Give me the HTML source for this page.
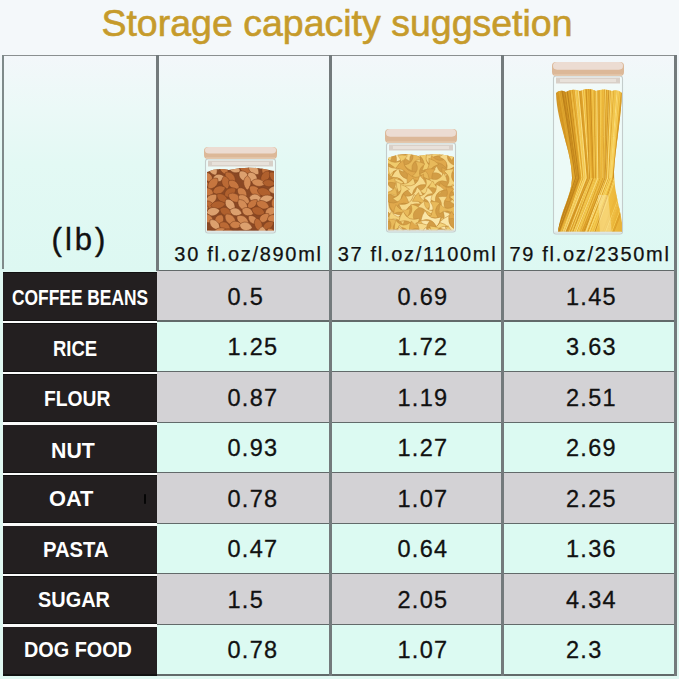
<!DOCTYPE html>
<html><head><meta charset="utf-8">
<style>
html,body{margin:0;padding:0;}
body{width:679px;height:679px;overflow:hidden;position:relative;
 background:#f4f8fa;font-family:"Liberation Sans",sans-serif;}
.a{position:absolute;}
.title{left:-2.5px;top:1px;width:679px;text-align:center;color:#c69b2b;font-size:37.5px;line-height:44px;-webkit-text-stroke:0.6px #c69b2b;}
.hdr{left:0;top:55px;width:679px;height:216px;background:linear-gradient(#f3f7fa 0%,#ebf9f7 25%,#e3f9f4 50%,#ddf8f2 100%);}
.lab{font-size:20px;color:#111;text-align:center;line-height:20px;letter-spacing:1.7px;-webkit-text-stroke:0.25px #111;}
.blk{color:#fff;font-weight:bold;font-size:21.5px;line-height:50px;white-space:nowrap;transform-origin:0 0;}

.val{font-size:23.5px;color:#111;text-align:left;letter-spacing:1.3px;-webkit-text-stroke:0.3px #111;}
.vl{background:#737a7c;}
.hlin{background:#626a6a;}
</style></head><body>
<div class="a" style="left:0;top:0;width:679px;height:56px;background:#f4f8fa"></div>
<div class="a title">Storage capacity suggsetion</div>
<div class="a hdr"></div>
<div class="a" style="left:0;top:270.5px;width:679px;height:408.5px;background:#e0f8f2"></div>
<div class="a" style="left:157px;top:270.50px;width:518px;height:50.56px;background:#d3d2d5"></div>
<div class="a" style="left:3px;top:272.00px;width:153.5px;height:49.06px;background:#231f20;box-shadow:inset 0 1px 0 #111,inset 0 -1px 0 #111"></div>
<div class="a val" style="left:227.5px;top:271.50px;height:50.56px;line-height:50.56px">0.5</div>
<div class="a val" style="left:397.5px;top:271.50px;height:50.56px;line-height:50.56px">0.69</div>
<div class="a val" style="left:566px;top:271.50px;height:50.56px;line-height:50.56px">1.45</div>
<div class="a" style="left:157px;top:321.06px;width:518px;height:50.56px;background:#dcfaf2"></div>
<div class="a" style="left:3px;top:323.06px;width:153.5px;height:48.56px;background:#231f20;box-shadow:inset 0 1px 0 #111,inset 0 -1px 0 #111"></div>
<div class="a val" style="left:227.5px;top:322.06px;height:50.56px;line-height:50.56px">1.25</div>
<div class="a val" style="left:397.5px;top:322.06px;height:50.56px;line-height:50.56px">1.72</div>
<div class="a val" style="left:566px;top:322.06px;height:50.56px;line-height:50.56px">3.63</div>
<div class="a" style="left:157px;top:371.62px;width:518px;height:50.56px;background:#d3d2d5"></div>
<div class="a" style="left:3px;top:373.62px;width:153.5px;height:48.56px;background:#231f20;box-shadow:inset 0 1px 0 #111,inset 0 -1px 0 #111"></div>
<div class="a val" style="left:227.5px;top:372.62px;height:50.56px;line-height:50.56px">0.87</div>
<div class="a val" style="left:397.5px;top:372.62px;height:50.56px;line-height:50.56px">1.19</div>
<div class="a val" style="left:566px;top:372.62px;height:50.56px;line-height:50.56px">2.51</div>
<div class="a" style="left:157px;top:422.18px;width:518px;height:50.56px;background:#dcfaf2"></div>
<div class="a" style="left:3px;top:424.18px;width:153.5px;height:48.56px;background:#231f20;box-shadow:inset 0 1px 0 #111,inset 0 -1px 0 #111"></div>
<div class="a val" style="left:227.5px;top:423.18px;height:50.56px;line-height:50.56px">0.93</div>
<div class="a val" style="left:397.5px;top:423.18px;height:50.56px;line-height:50.56px">1.27</div>
<div class="a val" style="left:566px;top:423.18px;height:50.56px;line-height:50.56px">2.69</div>
<div class="a" style="left:157px;top:472.74px;width:518px;height:50.56px;background:#d3d2d5"></div>
<div class="a" style="left:3px;top:474.74px;width:153.5px;height:48.56px;background:#231f20;box-shadow:inset 0 1px 0 #111,inset 0 -1px 0 #111"></div>
<div class="a val" style="left:227.5px;top:473.74px;height:50.56px;line-height:50.56px">0.78</div>
<div class="a val" style="left:397.5px;top:473.74px;height:50.56px;line-height:50.56px">1.07</div>
<div class="a val" style="left:566px;top:473.74px;height:50.56px;line-height:50.56px">2.25</div>
<div class="a" style="left:157px;top:523.30px;width:518px;height:50.56px;background:#dcfaf2"></div>
<div class="a" style="left:3px;top:525.30px;width:153.5px;height:48.56px;background:#231f20;box-shadow:inset 0 1px 0 #111,inset 0 -1px 0 #111"></div>
<div class="a val" style="left:227.5px;top:524.30px;height:50.56px;line-height:50.56px">0.47</div>
<div class="a val" style="left:397.5px;top:524.30px;height:50.56px;line-height:50.56px">0.64</div>
<div class="a val" style="left:566px;top:524.30px;height:50.56px;line-height:50.56px">1.36</div>
<div class="a" style="left:157px;top:573.86px;width:518px;height:50.56px;background:#d3d2d5"></div>
<div class="a" style="left:3px;top:575.86px;width:153.5px;height:48.56px;background:#231f20;box-shadow:inset 0 1px 0 #111,inset 0 -1px 0 #111"></div>
<div class="a val" style="left:227.5px;top:574.86px;height:50.56px;line-height:50.56px">1.5</div>
<div class="a val" style="left:397.5px;top:574.86px;height:50.56px;line-height:50.56px">2.05</div>
<div class="a val" style="left:566px;top:574.86px;height:50.56px;line-height:50.56px">4.34</div>
<div class="a" style="left:157px;top:624.42px;width:518px;height:50.56px;background:#dcfaf2"></div>
<div class="a" style="left:3px;top:626.42px;width:153.5px;height:48.56px;background:#231f20;box-shadow:inset 0 1px 0 #111,inset 0 -1px 0 #111"></div>
<div class="a val" style="left:227.5px;top:625.42px;height:50.56px;line-height:50.56px">0.78</div>
<div class="a val" style="left:397.5px;top:625.42px;height:50.56px;line-height:50.56px">1.07</div>
<div class="a val" style="left:566px;top:625.42px;height:50.56px;line-height:50.56px">2.3</div>
<div class="a hlin" style="left:157px;top:269.90px;width:519px;height:1.2px"></div>
<div class="a hlin" style="left:157px;top:320.46px;width:519px;height:1.2px"></div>
<div class="a hlin" style="left:157px;top:371.02px;width:519px;height:1.2px"></div>
<div class="a hlin" style="left:157px;top:421.58px;width:519px;height:1.2px"></div>
<div class="a hlin" style="left:157px;top:472.14px;width:519px;height:1.2px"></div>
<div class="a hlin" style="left:157px;top:522.70px;width:519px;height:1.2px"></div>
<div class="a hlin" style="left:157px;top:573.26px;width:519px;height:1.2px"></div>
<div class="a hlin" style="left:157px;top:623.82px;width:519px;height:1.2px"></div>
<div class="a hlin" style="left:157px;top:674.38px;width:519px;height:1.2px"></div>
<div class="a" style="left:3px;top:321.06px;width:153.5px;height:2.4px;background:#fbfbfb"></div>
<div class="a" style="left:3px;top:371.62px;width:153.5px;height:2.4px;background:#fbfbfb"></div>
<div class="a" style="left:3px;top:422.18px;width:153.5px;height:2.4px;background:#fbfbfb"></div>
<div class="a" style="left:3px;top:472.74px;width:153.5px;height:2.4px;background:#fbfbfb"></div>
<div class="a" style="left:3px;top:523.30px;width:153.5px;height:2.4px;background:#fbfbfb"></div>
<div class="a" style="left:3px;top:573.86px;width:153.5px;height:2.4px;background:#fbfbfb"></div>
<div class="a" style="left:3px;top:624.42px;width:153.5px;height:2.4px;background:#fbfbfb"></div>
<div class="a" style="left:3px;top:674.38px;width:154px;height:1.2px;background:#111"></div>
<div class="a" style="left:144.3px;top:494px;width:2px;height:9.5px;background:#050505;border-radius:1px"></div>
<div class="a" style="left:3px;top:54.6px;width:672px;height:1.4px;background:#8a8f90"></div>
<div class="a" style="left:2px;top:55px;width:2px;height:214px;background:#7f8a8a"></div>
<div class="a vl" style="left:155.5px;top:55px;width:3px;height:216px"></div>
<div class="a vl" style="left:328.50px;top:55px;width:3px;height:620.58px"></div>
<div class="a vl" style="left:500.85px;top:55px;width:3px;height:620.58px"></div>
<div class="a vl" style="left:673.50px;top:55px;width:3px;height:620.58px"></div>
<div class="a blk" style="left:11.79px;top:272.90px;transform:scaleX(0.8084)">COFFEE BEANS</div>
<div class="a blk" style="left:53.24px;top:323.55px;transform:scaleX(0.8600)">RICE</div>
<div class="a blk" style="left:44.00px;top:373.95px;transform:scaleX(0.8972)">FLOUR</div>
<div class="a blk" style="left:50.81px;top:425.55px;transform:scaleX(0.9907)">NUT</div>
<div class="a blk" style="left:49.39px;top:474.05px;transform:scaleX(1.0140)">OAT</div>
<div class="a blk" style="left:43.06px;top:525.40px;transform:scaleX(0.9412)">PASTA</div>
<div class="a blk" style="left:38.17px;top:575.40px;transform:scaleX(0.9263)">SUGAR</div>
<div class="a blk" style="left:24.38px;top:625.40px;transform:scaleX(0.9217)">DOG FOOD</div>
<div class="a" style="left:3px;top:222px;width:154px;text-align:center;font-size:31px;letter-spacing:3px;color:#111;line-height:36px;-webkit-text-stroke:0.4px #111">(lb)</div>
<div class="a lab" style="left:162px;top:244px;width:173px">30 fl.oz/890ml</div>
<div class="a lab" style="left:331.5px;top:244px;width:172px">37 fl.oz/1100ml</div>
<div class="a lab" style="left:503.5px;top:244px;width:173px">79 fl.oz/2350ml</div>
<svg class="a" style="left:0;top:0" width="679" height="679" viewBox="0 0 679 679"><rect x="205.5" y="159" width="70" height="74" rx="2.5" fill="#f4fbfa" fill-opacity="0.55"/><clipPath id="alc"><path d="M207,172 Q217,167 229,170 Q247,166 264,169 L274,171 L274,231 L207,231 Z"/></clipPath><g clip-path="url(#alc)"><rect x="207" y="166" width="67" height="65" fill="#8a4824"/><path d="M-6.7,0 C-4.0,-5.5 3.4,-4.9 6.7,0 C3.4,4.9 -4.0,5.5 -6.7,0Z" transform="translate(201.2 170.1) rotate(77)" fill="#b0602d" stroke="#7a3d1c" stroke-width="0.5"/><path d="M-6.7,0 C-4.0,-5.8 3.4,-5.1 6.7,0 C3.4,5.1 -4.0,5.8 -6.7,0Z" transform="translate(213.0 169.3) rotate(63)" fill="#dca06e" stroke="#7a3d1c" stroke-width="0.5"/><path d="M-6.6,0 C-4.0,-4.9 3.3,-4.3 6.6,0 C3.3,4.3 -4.0,4.9 -6.6,0Z" transform="translate(223.9 169.2) rotate(55)" fill="#c6763f" stroke="#7a3d1c" stroke-width="0.5"/><path d="M-6.7,0 C-4.0,-5.6 3.4,-5.0 6.7,0 C3.4,5.0 -4.0,5.6 -6.7,0Z" transform="translate(234.5 168.6) rotate(28)" fill="#dca06e" stroke="#7a3d1c" stroke-width="0.5"/><path d="M-7.4,0 C-4.5,-5.0 3.7,-4.4 7.4,0 C3.7,4.4 -4.5,5.0 -7.4,0Z" transform="translate(245.8 169.7) rotate(30)" fill="#bb6a35" stroke="#7a3d1c" stroke-width="0.5"/><path d="M-7.2,0 C-4.3,-5.8 3.6,-5.1 7.2,0 C3.6,5.1 -4.3,5.8 -7.2,0Z" transform="translate(253.7 169.2) rotate(47)" fill="#dca06e" stroke="#7a3d1c" stroke-width="0.5"/><path d="M-6.3,0 C-3.8,-5.2 3.2,-4.6 6.3,0 C3.2,4.6 -3.8,5.2 -6.3,0Z" transform="translate(265.4 169.6) rotate(99)" fill="#c6763f" stroke="#7a3d1c" stroke-width="0.5"/><path d="M-7.4,0 C-4.5,-5.8 3.7,-5.2 7.4,0 C3.7,5.2 -4.5,5.8 -7.4,0Z" transform="translate(279.0 170.5) rotate(-34)" fill="#b0602d" stroke="#7a3d1c" stroke-width="0.5"/><path d="M-6.4,0 C-3.9,-4.9 3.2,-4.4 6.4,0 C3.2,4.4 -3.9,4.9 -6.4,0Z" transform="translate(208.5 177.4) rotate(49)" fill="#cd8049" stroke="#7a3d1c" stroke-width="0.5"/><path d="M-6.0,0 C-3.6,-5.3 3.0,-4.7 6.0,0 C3.0,4.7 -3.6,5.3 -6.0,0Z" transform="translate(218.7 177.9) rotate(-9)" fill="#dca06e" stroke="#7a3d1c" stroke-width="0.5"/><path d="M-6.9,0 C-4.1,-5.5 3.4,-4.8 6.9,0 C3.4,4.8 -4.1,5.5 -6.9,0Z" transform="translate(230.4 177.3) rotate(44)" fill="#bb6a35" stroke="#7a3d1c" stroke-width="0.5"/><path d="M-6.8,0 C-4.1,-5.9 3.4,-5.2 6.8,0 C3.4,5.2 -4.1,5.9 -6.8,0Z" transform="translate(244.2 176.4) rotate(48)" fill="#dca06e" stroke="#7a3d1c" stroke-width="0.5"/><path d="M-6.5,0 C-3.9,-5.9 3.2,-5.2 6.5,0 C3.2,5.2 -3.9,5.9 -6.5,0Z" transform="translate(252.6 177.6) rotate(48)" fill="#dca06e" stroke="#7a3d1c" stroke-width="0.5"/><path d="M-6.8,0 C-4.1,-5.5 3.4,-4.9 6.8,0 C3.4,4.9 -4.1,5.5 -6.8,0Z" transform="translate(265.2 176.7) rotate(127)" fill="#b0602d" stroke="#7a3d1c" stroke-width="0.5"/><path d="M-7.5,0 C-4.5,-5.4 3.7,-4.8 7.5,0 C3.7,4.8 -4.5,5.4 -7.5,0Z" transform="translate(275.0 177.6) rotate(44)" fill="#b0602d" stroke="#7a3d1c" stroke-width="0.5"/><path d="M-6.9,0 C-4.2,-5.5 3.5,-4.9 6.9,0 C3.5,4.9 -4.2,5.5 -6.9,0Z" transform="translate(202.9 185.5) rotate(-19)" fill="#c6763f" stroke="#7a3d1c" stroke-width="0.5"/><path d="M-7.1,0 C-4.2,-5.7 3.5,-5.0 7.1,0 C3.5,5.0 -4.2,5.7 -7.1,0Z" transform="translate(212.8 183.6) rotate(132)" fill="#c6763f" stroke="#7a3d1c" stroke-width="0.5"/><path d="M-6.7,0 C-4.0,-5.5 3.3,-4.9 6.7,0 C3.3,4.9 -4.0,5.5 -6.7,0Z" transform="translate(225.8 182.6) rotate(77)" fill="#bb6a35" stroke="#7a3d1c" stroke-width="0.5"/><path d="M-6.5,0 C-3.9,-5.3 3.2,-4.7 6.5,0 C3.2,4.7 -3.9,5.3 -6.5,0Z" transform="translate(233.9 184.8) rotate(34)" fill="#c6763f" stroke="#7a3d1c" stroke-width="0.5"/><path d="M-7.2,0 C-4.3,-5.1 3.6,-4.5 7.2,0 C3.6,4.5 -4.3,5.1 -7.2,0Z" transform="translate(247.3 182.9) rotate(90)" fill="#d38c56" stroke="#7a3d1c" stroke-width="0.5"/><path d="M-7.0,0 C-4.2,-5.1 3.5,-4.5 7.0,0 C3.5,4.5 -4.2,5.1 -7.0,0Z" transform="translate(258.5 182.8) rotate(10)" fill="#d38c56" stroke="#7a3d1c" stroke-width="0.5"/><path d="M-6.3,0 C-3.8,-5.0 3.2,-4.4 6.3,0 C3.2,4.4 -3.8,5.0 -6.3,0Z" transform="translate(269.0 183.2) rotate(7)" fill="#b0602d" stroke="#7a3d1c" stroke-width="0.5"/><path d="M-6.5,0 C-3.9,-5.8 3.3,-5.1 6.5,0 C3.3,5.1 -3.9,5.8 -6.5,0Z" transform="translate(207.4 192.0) rotate(7)" fill="#c6763f" stroke="#7a3d1c" stroke-width="0.5"/><path d="M-6.7,0 C-4.0,-5.5 3.3,-4.9 6.7,0 C3.3,4.9 -4.0,5.5 -6.7,0Z" transform="translate(219.1 189.9) rotate(-21)" fill="#bb6a35" stroke="#7a3d1c" stroke-width="0.5"/><path d="M-6.7,0 C-4.0,-5.8 3.4,-5.1 6.7,0 C3.4,5.1 -4.0,5.8 -6.7,0Z" transform="translate(230.2 192.3) rotate(-34)" fill="#b0602d" stroke="#7a3d1c" stroke-width="0.5"/><path d="M-6.0,0 C-3.6,-5.4 3.0,-4.8 6.0,0 C3.0,4.8 -3.6,5.4 -6.0,0Z" transform="translate(242.2 192.4) rotate(43)" fill="#cd8049" stroke="#7a3d1c" stroke-width="0.5"/><path d="M-7.3,0 C-4.4,-5.9 3.6,-5.3 7.3,0 C3.6,5.3 -4.4,5.9 -7.3,0Z" transform="translate(255.3 191.1) rotate(39)" fill="#c6763f" stroke="#7a3d1c" stroke-width="0.5"/><path d="M-7.3,0 C-4.4,-5.8 3.7,-5.2 7.3,0 C3.7,5.2 -4.4,5.8 -7.3,0Z" transform="translate(264.2 192.2) rotate(19)" fill="#b0602d" stroke="#7a3d1c" stroke-width="0.5"/><path d="M-7.0,0 C-4.2,-5.4 3.5,-4.8 7.0,0 C3.5,4.8 -4.2,5.4 -7.0,0Z" transform="translate(275.6 189.9) rotate(0)" fill="#dca06e" stroke="#7a3d1c" stroke-width="0.5"/><path d="M-6.7,0 C-4.0,-5.7 3.4,-5.1 6.7,0 C3.4,5.1 -4.0,5.7 -6.7,0Z" transform="translate(203.2 196.8) rotate(53)" fill="#bb6a35" stroke="#7a3d1c" stroke-width="0.5"/><path d="M-7.2,0 C-4.3,-5.9 3.6,-5.2 7.2,0 C3.6,5.2 -4.3,5.9 -7.2,0Z" transform="translate(211.3 199.2) rotate(-38)" fill="#d38c56" stroke="#7a3d1c" stroke-width="0.5"/><path d="M-7.1,0 C-4.3,-5.1 3.6,-4.6 7.1,0 C3.6,4.6 -4.3,5.1 -7.1,0Z" transform="translate(222.6 198.4) rotate(36)" fill="#b0602d" stroke="#7a3d1c" stroke-width="0.5"/><path d="M-7.3,0 C-4.4,-5.7 3.6,-5.1 7.3,0 C3.6,5.1 -4.4,5.7 -7.3,0Z" transform="translate(234.9 197.9) rotate(28)" fill="#c6763f" stroke="#7a3d1c" stroke-width="0.5"/><path d="M-6.8,0 C-4.1,-5.4 3.4,-4.8 6.8,0 C3.4,4.8 -4.1,5.4 -6.8,0Z" transform="translate(244.1 199.4) rotate(35)" fill="#d38c56" stroke="#7a3d1c" stroke-width="0.5"/><path d="M-6.4,0 C-3.8,-5.9 3.2,-5.3 6.4,0 C3.2,5.3 -3.8,5.9 -6.4,0Z" transform="translate(255.6 198.4) rotate(9)" fill="#dca06e" stroke="#7a3d1c" stroke-width="0.5"/><path d="M-6.9,0 C-4.1,-4.9 3.4,-4.4 6.9,0 C3.4,4.4 -4.1,4.9 -6.9,0Z" transform="translate(266.4 198.6) rotate(-12)" fill="#dca06e" stroke="#7a3d1c" stroke-width="0.5"/><path d="M-7.3,0 C-4.4,-4.9 3.7,-4.4 7.3,0 C3.7,4.4 -4.4,4.9 -7.3,0Z" transform="translate(278.3 197.6) rotate(120)" fill="#cd8049" stroke="#7a3d1c" stroke-width="0.5"/><path d="M-6.0,0 C-3.6,-5.1 3.0,-4.5 6.0,0 C3.0,4.5 -3.6,5.1 -6.0,0Z" transform="translate(208.6 204.8) rotate(19)" fill="#bb6a35" stroke="#7a3d1c" stroke-width="0.5"/><path d="M-7.4,0 C-4.4,-5.3 3.7,-4.7 7.4,0 C3.7,4.7 -4.4,5.3 -7.4,0Z" transform="translate(218.1 204.8) rotate(-7)" fill="#b0602d" stroke="#7a3d1c" stroke-width="0.5"/><path d="M-7.0,0 C-4.2,-5.8 3.5,-5.2 7.0,0 C3.5,5.2 -4.2,5.8 -7.0,0Z" transform="translate(230.3 204.9) rotate(52)" fill="#dca06e" stroke="#7a3d1c" stroke-width="0.5"/><path d="M-7.1,0 C-4.2,-5.4 3.5,-4.8 7.1,0 C3.5,4.8 -4.2,5.4 -7.1,0Z" transform="translate(243.0 205.2) rotate(50)" fill="#d38c56" stroke="#7a3d1c" stroke-width="0.5"/><path d="M-6.3,0 C-3.8,-4.9 3.1,-4.3 6.3,0 C3.1,4.3 -3.8,4.9 -6.3,0Z" transform="translate(252.5 203.8) rotate(-40)" fill="#c6763f" stroke="#7a3d1c" stroke-width="0.5"/><path d="M-6.9,0 C-4.1,-5.7 3.4,-5.1 6.9,0 C3.4,5.1 -4.1,5.7 -6.9,0Z" transform="translate(262.8 204.9) rotate(20)" fill="#c6763f" stroke="#7a3d1c" stroke-width="0.5"/><path d="M-7.1,0 C-4.3,-5.9 3.6,-5.2 7.1,0 C3.6,5.2 -4.3,5.9 -7.1,0Z" transform="translate(276.1 205.1) rotate(64)" fill="#c6763f" stroke="#7a3d1c" stroke-width="0.5"/><path d="M-7.0,0 C-4.2,-5.4 3.5,-4.8 7.0,0 C3.5,4.8 -4.2,5.4 -7.0,0Z" transform="translate(203.1 211.0) rotate(-42)" fill="#cd8049" stroke="#7a3d1c" stroke-width="0.5"/><path d="M-6.8,0 C-4.1,-5.9 3.4,-5.2 6.8,0 C3.4,5.2 -4.1,5.9 -6.8,0Z" transform="translate(213.2 211.6) rotate(-10)" fill="#dca06e" stroke="#7a3d1c" stroke-width="0.5"/><path d="M-6.6,0 C-4.0,-5.5 3.3,-4.9 6.6,0 C3.3,4.9 -4.0,5.5 -6.6,0Z" transform="translate(225.9 211.7) rotate(25)" fill="#b0602d" stroke="#7a3d1c" stroke-width="0.5"/><path d="M-6.2,0 C-3.7,-5.4 3.1,-4.8 6.2,0 C3.1,4.8 -3.7,5.4 -6.2,0Z" transform="translate(235.9 212.0) rotate(14)" fill="#dca06e" stroke="#7a3d1c" stroke-width="0.5"/><path d="M-6.2,0 C-3.7,-5.7 3.1,-5.0 6.2,0 C3.1,5.0 -3.7,5.7 -6.2,0Z" transform="translate(247.7 211.8) rotate(22)" fill="#d38c56" stroke="#7a3d1c" stroke-width="0.5"/><path d="M-7.0,0 C-4.2,-5.8 3.5,-5.1 7.0,0 C3.5,5.1 -4.2,5.8 -7.0,0Z" transform="translate(258.3 211.2) rotate(19)" fill="#b0602d" stroke="#7a3d1c" stroke-width="0.5"/><path d="M-6.4,0 C-3.8,-5.7 3.2,-5.1 6.4,0 C3.2,5.1 -3.8,5.7 -6.4,0Z" transform="translate(270.8 211.3) rotate(-28)" fill="#d38c56" stroke="#7a3d1c" stroke-width="0.5"/><path d="M-6.6,0 C-4.0,-5.6 3.3,-5.0 6.6,0 C3.3,5.0 -4.0,5.6 -6.6,0Z" transform="translate(207.6 218.5) rotate(27)" fill="#cd8049" stroke="#7a3d1c" stroke-width="0.5"/><path d="M-6.0,0 C-3.6,-5.9 3.0,-5.3 6.0,0 C3.0,5.3 -3.6,5.9 -6.0,0Z" transform="translate(219.1 220.0) rotate(122)" fill="#c6763f" stroke="#7a3d1c" stroke-width="0.5"/><path d="M-7.4,0 C-4.4,-5.8 3.7,-5.2 7.4,0 C3.7,5.2 -4.4,5.8 -7.4,0Z" transform="translate(230.6 219.7) rotate(46)" fill="#cd8049" stroke="#7a3d1c" stroke-width="0.5"/><path d="M-7.3,0 C-4.4,-5.7 3.7,-5.1 7.3,0 C3.7,5.1 -4.4,5.7 -7.3,0Z" transform="translate(242.9 220.4) rotate(35)" fill="#d38c56" stroke="#7a3d1c" stroke-width="0.5"/><path d="M-6.3,0 C-3.8,-4.9 3.1,-4.4 6.3,0 C3.1,4.4 -3.8,4.9 -6.3,0Z" transform="translate(253.3 220.1) rotate(40)" fill="#d38c56" stroke="#7a3d1c" stroke-width="0.5"/><path d="M-6.1,0 C-3.6,-5.3 3.0,-4.8 6.1,0 C3.0,4.8 -3.6,5.3 -6.1,0Z" transform="translate(264.3 217.8) rotate(-41)" fill="#cd8049" stroke="#7a3d1c" stroke-width="0.5"/><path d="M-6.1,0 C-3.7,-5.6 3.1,-4.9 6.1,0 C3.1,4.9 -3.7,5.6 -6.1,0Z" transform="translate(273.4 218.5) rotate(-6)" fill="#cd8049" stroke="#7a3d1c" stroke-width="0.5"/><path d="M-6.1,0 C-3.7,-5.3 3.1,-4.7 6.1,0 C3.1,4.7 -3.7,5.3 -6.1,0Z" transform="translate(201.7 226.1) rotate(-38)" fill="#dca06e" stroke="#7a3d1c" stroke-width="0.5"/><path d="M-7.0,0 C-4.2,-5.3 3.5,-4.7 7.0,0 C3.5,4.7 -4.2,5.3 -7.0,0Z" transform="translate(215.0 224.8) rotate(44)" fill="#dca06e" stroke="#7a3d1c" stroke-width="0.5"/><path d="M-6.2,0 C-3.7,-5.9 3.1,-5.2 6.2,0 C3.1,5.2 -3.7,5.9 -6.2,0Z" transform="translate(224.9 226.5) rotate(31)" fill="#bb6a35" stroke="#7a3d1c" stroke-width="0.5"/><path d="M-6.1,0 C-3.7,-5.2 3.0,-4.6 6.1,0 C3.0,4.6 -3.7,5.2 -6.1,0Z" transform="translate(235.8 224.8) rotate(-1)" fill="#cd8049" stroke="#7a3d1c" stroke-width="0.5"/><path d="M-6.6,0 C-3.9,-5.9 3.3,-5.2 6.6,0 C3.3,5.2 -3.9,5.9 -6.6,0Z" transform="translate(245.9 226.4) rotate(13)" fill="#dca06e" stroke="#7a3d1c" stroke-width="0.5"/><path d="M-7.0,0 C-4.2,-5.3 3.5,-4.7 7.0,0 C3.5,4.7 -4.2,5.3 -7.0,0Z" transform="translate(258.4 224.9) rotate(73)" fill="#bb6a35" stroke="#7a3d1c" stroke-width="0.5"/><path d="M-6.2,0 C-3.7,-5.1 3.1,-4.5 6.2,0 C3.1,4.5 -3.7,5.1 -6.2,0Z" transform="translate(268.3 225.4) rotate(-32)" fill="#b0602d" stroke="#7a3d1c" stroke-width="0.5"/><path d="M-6.1,0 C-3.6,-5.0 3.0,-4.5 6.1,0 C3.0,4.5 -3.6,5.0 -6.1,0Z" transform="translate(280.2 225.6) rotate(-23)" fill="#dca06e" stroke="#7a3d1c" stroke-width="0.5"/><path d="M-7.4,0 C-4.5,-5.3 3.7,-4.8 7.4,0 C3.7,4.8 -4.5,5.3 -7.4,0Z" transform="translate(207.2 233.8) rotate(-15)" fill="#c6763f" stroke="#7a3d1c" stroke-width="0.5"/><path d="M-7.0,0 C-4.2,-5.5 3.5,-4.9 7.0,0 C3.5,4.9 -4.2,5.5 -7.0,0Z" transform="translate(219.7 231.8) rotate(-23)" fill="#cd8049" stroke="#7a3d1c" stroke-width="0.5"/><path d="M-7.2,0 C-4.3,-5.7 3.6,-5.0 7.2,0 C3.6,5.0 -4.3,5.7 -7.2,0Z" transform="translate(229.5 233.2) rotate(17)" fill="#b0602d" stroke="#7a3d1c" stroke-width="0.5"/><path d="M-6.9,0 C-4.1,-5.1 3.4,-4.5 6.9,0 C3.4,4.5 -4.1,5.1 -6.9,0Z" transform="translate(241.2 233.9) rotate(4)" fill="#bb6a35" stroke="#7a3d1c" stroke-width="0.5"/><path d="M-7.4,0 C-4.5,-5.3 3.7,-4.7 7.4,0 C3.7,4.7 -4.5,5.3 -7.4,0Z" transform="translate(250.3 234.0) rotate(-6)" fill="#b0602d" stroke="#7a3d1c" stroke-width="0.5"/><path d="M-6.4,0 C-3.9,-5.8 3.2,-5.1 6.4,0 C3.2,5.1 -3.9,5.8 -6.4,0Z" transform="translate(262.1 233.0) rotate(93)" fill="#dca06e" stroke="#7a3d1c" stroke-width="0.5"/><path d="M-6.4,0 C-3.8,-5.0 3.2,-4.5 6.4,0 C3.2,4.5 -3.8,5.0 -6.4,0Z" transform="translate(271.8 233.4) rotate(51)" fill="#cd8049" stroke="#7a3d1c" stroke-width="0.5"/></g><rect x="205.5" y="159" width="70" height="74" rx="2.5" fill="none" stroke="#c4cccb" stroke-width="1.1"/><rect x="206.5" y="230.5" width="68" height="2" fill="#d8dedd" fill-opacity="0.7"/><rect x="208" y="160.5" width="65" height="6" fill="#d6cbc2" fill-opacity="0.9"/><rect x="212" y="162" width="57" height="3" fill="#e9e2dc" fill-opacity="0.9"/><rect x="204" y="147" width="73" height="12" rx="4" fill="#dcb898"/><rect x="205" y="147" width="71" height="6.6" rx="4" fill="#ecdcd2"/><rect x="206" y="157.5" width="69" height="1.2" fill="#e6cdb6"/><rect x="386.5" y="143" width="69" height="89" rx="2.5" fill="#f4fbfa" fill-opacity="0.55"/><clipPath id="bwc"><path d="M388,158 Q403,151 418,156 Q438,152 454,157 L454,230.5 L388,230.5 Z"/></clipPath><g clip-path="url(#bwc)"><rect x="388" y="151" width="66" height="79.5" fill="#d39d45"/><path d="M-7,-4.5 Q-3,-1 0,-1.2 Q3,-1 7,-4.5 Q8,0 7,4.5 Q3,1 0,1.2 Q-3,1 -7,4.5 Q-8,0 -7,-4.5Z" transform="translate(383.8 155.1) rotate(13) scale(1.10)" fill="#f3d27a" stroke="#c08a38" stroke-width="0.4"/><path d="M-7,-4.5 Q-3,-1 0,-1.2 Q3,-1 7,-4.5 Q8,0 7,4.5 Q3,1 0,1.2 Q-3,1 -7,4.5 Q-8,0 -7,-4.5Z" transform="translate(396.3 154.1) rotate(237) scale(0.96)" fill="#fae6a8" stroke="#c08a38" stroke-width="0.4"/><path d="M-7,-4.5 Q-3,-1 0,-1.2 Q3,-1 7,-4.5 Q8,0 7,4.5 Q3,1 0,1.2 Q-3,1 -7,4.5 Q-8,0 -7,-4.5Z" transform="translate(410.7 153.2) rotate(130) scale(0.99)" fill="#f6d98a" stroke="#c08a38" stroke-width="0.4"/><path d="M-7,-4.5 Q-3,-1 0,-1.2 Q3,-1 7,-4.5 Q8,0 7,4.5 Q3,1 0,1.2 Q-3,1 -7,4.5 Q-8,0 -7,-4.5Z" transform="translate(419.8 154.4) rotate(118) scale(1.04)" fill="#f3d27a" stroke="#c08a38" stroke-width="0.4"/><path d="M-7,-4.5 Q-3,-1 0,-1.2 Q3,-1 7,-4.5 Q8,0 7,4.5 Q3,1 0,1.2 Q-3,1 -7,4.5 Q-8,0 -7,-4.5Z" transform="translate(433.5 155.4) rotate(334) scale(1.19)" fill="#f3d27a" stroke="#c08a38" stroke-width="0.4"/><path d="M-7,-4.5 Q-3,-1 0,-1.2 Q3,-1 7,-4.5 Q8,0 7,4.5 Q3,1 0,1.2 Q-3,1 -7,4.5 Q-8,0 -7,-4.5Z" transform="translate(447.1 153.8) rotate(23) scale(0.98)" fill="#f3d27a" stroke="#c08a38" stroke-width="0.4"/><path d="M-7,-4.5 Q-3,-1 0,-1.2 Q3,-1 7,-4.5 Q8,0 7,4.5 Q3,1 0,1.2 Q-3,1 -7,4.5 Q-8,0 -7,-4.5Z" transform="translate(457.3 153.4) rotate(15) scale(0.93)" fill="#f0cb6c" stroke="#c08a38" stroke-width="0.4"/><path d="M-7,-4.5 Q-3,-1 0,-1.2 Q3,-1 7,-4.5 Q8,0 7,4.5 Q3,1 0,1.2 Q-3,1 -7,4.5 Q-8,0 -7,-4.5Z" transform="translate(390.6 162.9) rotate(24) scale(1.24)" fill="#f0cb6c" stroke="#c08a38" stroke-width="0.4"/><path d="M-7,-4.5 Q-3,-1 0,-1.2 Q3,-1 7,-4.5 Q8,0 7,4.5 Q3,1 0,1.2 Q-3,1 -7,4.5 Q-8,0 -7,-4.5Z" transform="translate(402.2 162.9) rotate(273) scale(1.06)" fill="#f0cb6c" stroke="#c08a38" stroke-width="0.4"/><path d="M-7,-4.5 Q-3,-1 0,-1.2 Q3,-1 7,-4.5 Q8,0 7,4.5 Q3,1 0,1.2 Q-3,1 -7,4.5 Q-8,0 -7,-4.5Z" transform="translate(412.5 162.0) rotate(306) scale(1.08)" fill="#e8b95a" stroke="#c08a38" stroke-width="0.4"/><path d="M-7,-4.5 Q-3,-1 0,-1.2 Q3,-1 7,-4.5 Q8,0 7,4.5 Q3,1 0,1.2 Q-3,1 -7,4.5 Q-8,0 -7,-4.5Z" transform="translate(425.0 161.0) rotate(75) scale(1.21)" fill="#f0cb6c" stroke="#c08a38" stroke-width="0.4"/><path d="M-7,-4.5 Q-3,-1 0,-1.2 Q3,-1 7,-4.5 Q8,0 7,4.5 Q3,1 0,1.2 Q-3,1 -7,4.5 Q-8,0 -7,-4.5Z" transform="translate(438.8 161.6) rotate(8) scale(1.13)" fill="#e0a94c" stroke="#c08a38" stroke-width="0.4"/><path d="M-7,-4.5 Q-3,-1 0,-1.2 Q3,-1 7,-4.5 Q8,0 7,4.5 Q3,1 0,1.2 Q-3,1 -7,4.5 Q-8,0 -7,-4.5Z" transform="translate(447.3 161.4) rotate(61) scale(1.10)" fill="#f6d98a" stroke="#c08a38" stroke-width="0.4"/><path d="M-7,-4.5 Q-3,-1 0,-1.2 Q3,-1 7,-4.5 Q8,0 7,4.5 Q3,1 0,1.2 Q-3,1 -7,4.5 Q-8,0 -7,-4.5Z" transform="translate(384.6 170.3) rotate(12) scale(1.19)" fill="#f0cb6c" stroke="#c08a38" stroke-width="0.4"/><path d="M-7,-4.5 Q-3,-1 0,-1.2 Q3,-1 7,-4.5 Q8,0 7,4.5 Q3,1 0,1.2 Q-3,1 -7,4.5 Q-8,0 -7,-4.5Z" transform="translate(395.8 169.1) rotate(348) scale(0.99)" fill="#f6d98a" stroke="#c08a38" stroke-width="0.4"/><path d="M-7,-4.5 Q-3,-1 0,-1.2 Q3,-1 7,-4.5 Q8,0 7,4.5 Q3,1 0,1.2 Q-3,1 -7,4.5 Q-8,0 -7,-4.5Z" transform="translate(406.1 170.3) rotate(42) scale(1.27)" fill="#e0a94c" stroke="#c08a38" stroke-width="0.4"/><path d="M-7,-4.5 Q-3,-1 0,-1.2 Q3,-1 7,-4.5 Q8,0 7,4.5 Q3,1 0,1.2 Q-3,1 -7,4.5 Q-8,0 -7,-4.5Z" transform="translate(418.4 170.1) rotate(284) scale(1.09)" fill="#e8b95a" stroke="#c08a38" stroke-width="0.4"/><path d="M-7,-4.5 Q-3,-1 0,-1.2 Q3,-1 7,-4.5 Q8,0 7,4.5 Q3,1 0,1.2 Q-3,1 -7,4.5 Q-8,0 -7,-4.5Z" transform="translate(429.2 169.1) rotate(121) scale(1.30)" fill="#e8b95a" stroke="#c08a38" stroke-width="0.4"/><path d="M-7,-4.5 Q-3,-1 0,-1.2 Q3,-1 7,-4.5 Q8,0 7,4.5 Q3,1 0,1.2 Q-3,1 -7,4.5 Q-8,0 -7,-4.5Z" transform="translate(440.0 172.9) rotate(213) scale(0.90)" fill="#f6d98a" stroke="#c08a38" stroke-width="0.4"/><path d="M-7,-4.5 Q-3,-1 0,-1.2 Q3,-1 7,-4.5 Q8,0 7,4.5 Q3,1 0,1.2 Q-3,1 -7,4.5 Q-8,0 -7,-4.5Z" transform="translate(449.4 171.0) rotate(173) scale(0.98)" fill="#e0a94c" stroke="#c08a38" stroke-width="0.4"/><path d="M-7,-4.5 Q-3,-1 0,-1.2 Q3,-1 7,-4.5 Q8,0 7,4.5 Q3,1 0,1.2 Q-3,1 -7,4.5 Q-8,0 -7,-4.5Z" transform="translate(389.8 180.9) rotate(172) scale(1.22)" fill="#e8b95a" stroke="#c08a38" stroke-width="0.4"/><path d="M-7,-4.5 Q-3,-1 0,-1.2 Q3,-1 7,-4.5 Q8,0 7,4.5 Q3,1 0,1.2 Q-3,1 -7,4.5 Q-8,0 -7,-4.5Z" transform="translate(402.0 178.2) rotate(218) scale(1.28)" fill="#f6d98a" stroke="#c08a38" stroke-width="0.4"/><path d="M-7,-4.5 Q-3,-1 0,-1.2 Q3,-1 7,-4.5 Q8,0 7,4.5 Q3,1 0,1.2 Q-3,1 -7,4.5 Q-8,0 -7,-4.5Z" transform="translate(415.4 178.7) rotate(183) scale(1.12)" fill="#e0a94c" stroke="#c08a38" stroke-width="0.4"/><path d="M-7,-4.5 Q-3,-1 0,-1.2 Q3,-1 7,-4.5 Q8,0 7,4.5 Q3,1 0,1.2 Q-3,1 -7,4.5 Q-8,0 -7,-4.5Z" transform="translate(430.4 177.7) rotate(266) scale(1.19)" fill="#e0a94c" stroke="#c08a38" stroke-width="0.4"/><path d="M-7,-4.5 Q-3,-1 0,-1.2 Q3,-1 7,-4.5 Q8,0 7,4.5 Q3,1 0,1.2 Q-3,1 -7,4.5 Q-8,0 -7,-4.5Z" transform="translate(438.5 180.2) rotate(158) scale(1.08)" fill="#f3d27a" stroke="#c08a38" stroke-width="0.4"/><path d="M-7,-4.5 Q-3,-1 0,-1.2 Q3,-1 7,-4.5 Q8,0 7,4.5 Q3,1 0,1.2 Q-3,1 -7,4.5 Q-8,0 -7,-4.5Z" transform="translate(450.3 177.7) rotate(259) scale(1.14)" fill="#f3d27a" stroke="#c08a38" stroke-width="0.4"/><path d="M-7,-4.5 Q-3,-1 0,-1.2 Q3,-1 7,-4.5 Q8,0 7,4.5 Q3,1 0,1.2 Q-3,1 -7,4.5 Q-8,0 -7,-4.5Z" transform="translate(386.8 185.2) rotate(62) scale(1.20)" fill="#fae6a8" stroke="#c08a38" stroke-width="0.4"/><path d="M-7,-4.5 Q-3,-1 0,-1.2 Q3,-1 7,-4.5 Q8,0 7,4.5 Q3,1 0,1.2 Q-3,1 -7,4.5 Q-8,0 -7,-4.5Z" transform="translate(396.0 187.6) rotate(115) scale(1.14)" fill="#f3d27a" stroke="#c08a38" stroke-width="0.4"/><path d="M-7,-4.5 Q-3,-1 0,-1.2 Q3,-1 7,-4.5 Q8,0 7,4.5 Q3,1 0,1.2 Q-3,1 -7,4.5 Q-8,0 -7,-4.5Z" transform="translate(405.9 185.2) rotate(168) scale(1.25)" fill="#f3d27a" stroke="#c08a38" stroke-width="0.4"/><path d="M-7,-4.5 Q-3,-1 0,-1.2 Q3,-1 7,-4.5 Q8,0 7,4.5 Q3,1 0,1.2 Q-3,1 -7,4.5 Q-8,0 -7,-4.5Z" transform="translate(415.9 185.3) rotate(144) scale(1.28)" fill="#f6d98a" stroke="#c08a38" stroke-width="0.4"/><path d="M-7,-4.5 Q-3,-1 0,-1.2 Q3,-1 7,-4.5 Q8,0 7,4.5 Q3,1 0,1.2 Q-3,1 -7,4.5 Q-8,0 -7,-4.5Z" transform="translate(426.7 186.8) rotate(296) scale(0.98)" fill="#f3d27a" stroke="#c08a38" stroke-width="0.4"/><path d="M-7,-4.5 Q-3,-1 0,-1.2 Q3,-1 7,-4.5 Q8,0 7,4.5 Q3,1 0,1.2 Q-3,1 -7,4.5 Q-8,0 -7,-4.5Z" transform="translate(436.2 187.6) rotate(211) scale(0.90)" fill="#f0cb6c" stroke="#c08a38" stroke-width="0.4"/><path d="M-7,-4.5 Q-3,-1 0,-1.2 Q3,-1 7,-4.5 Q8,0 7,4.5 Q3,1 0,1.2 Q-3,1 -7,4.5 Q-8,0 -7,-4.5Z" transform="translate(447.3 188.4) rotate(186) scale(1.10)" fill="#e0a94c" stroke="#c08a38" stroke-width="0.4"/><path d="M-7,-4.5 Q-3,-1 0,-1.2 Q3,-1 7,-4.5 Q8,0 7,4.5 Q3,1 0,1.2 Q-3,1 -7,4.5 Q-8,0 -7,-4.5Z" transform="translate(461.0 188.1) rotate(168) scale(1.15)" fill="#f6d98a" stroke="#c08a38" stroke-width="0.4"/><path d="M-7,-4.5 Q-3,-1 0,-1.2 Q3,-1 7,-4.5 Q8,0 7,4.5 Q3,1 0,1.2 Q-3,1 -7,4.5 Q-8,0 -7,-4.5Z" transform="translate(389.5 193.1) rotate(348) scale(0.98)" fill="#e8b95a" stroke="#c08a38" stroke-width="0.4"/><path d="M-7,-4.5 Q-3,-1 0,-1.2 Q3,-1 7,-4.5 Q8,0 7,4.5 Q3,1 0,1.2 Q-3,1 -7,4.5 Q-8,0 -7,-4.5Z" transform="translate(401.1 193.9) rotate(299) scale(1.15)" fill="#f3d27a" stroke="#c08a38" stroke-width="0.4"/><path d="M-7,-4.5 Q-3,-1 0,-1.2 Q3,-1 7,-4.5 Q8,0 7,4.5 Q3,1 0,1.2 Q-3,1 -7,4.5 Q-8,0 -7,-4.5Z" transform="translate(413.4 195.8) rotate(145) scale(1.16)" fill="#f6d98a" stroke="#c08a38" stroke-width="0.4"/><path d="M-7,-4.5 Q-3,-1 0,-1.2 Q3,-1 7,-4.5 Q8,0 7,4.5 Q3,1 0,1.2 Q-3,1 -7,4.5 Q-8,0 -7,-4.5Z" transform="translate(425.4 194.8) rotate(137) scale(0.95)" fill="#f6d98a" stroke="#c08a38" stroke-width="0.4"/><path d="M-7,-4.5 Q-3,-1 0,-1.2 Q3,-1 7,-4.5 Q8,0 7,4.5 Q3,1 0,1.2 Q-3,1 -7,4.5 Q-8,0 -7,-4.5Z" transform="translate(435.9 193.3) rotate(125) scale(1.09)" fill="#f6d98a" stroke="#c08a38" stroke-width="0.4"/><path d="M-7,-4.5 Q-3,-1 0,-1.2 Q3,-1 7,-4.5 Q8,0 7,4.5 Q3,1 0,1.2 Q-3,1 -7,4.5 Q-8,0 -7,-4.5Z" transform="translate(448.5 194.5) rotate(282) scale(0.93)" fill="#e0a94c" stroke="#c08a38" stroke-width="0.4"/><path d="M-7,-4.5 Q-3,-1 0,-1.2 Q3,-1 7,-4.5 Q8,0 7,4.5 Q3,1 0,1.2 Q-3,1 -7,4.5 Q-8,0 -7,-4.5Z" transform="translate(457.8 197.0) rotate(121) scale(1.07)" fill="#f6d98a" stroke="#c08a38" stroke-width="0.4"/><path d="M-7,-4.5 Q-3,-1 0,-1.2 Q3,-1 7,-4.5 Q8,0 7,4.5 Q3,1 0,1.2 Q-3,1 -7,4.5 Q-8,0 -7,-4.5Z" transform="translate(384.3 204.0) rotate(74) scale(0.99)" fill="#f3d27a" stroke="#c08a38" stroke-width="0.4"/><path d="M-7,-4.5 Q-3,-1 0,-1.2 Q3,-1 7,-4.5 Q8,0 7,4.5 Q3,1 0,1.2 Q-3,1 -7,4.5 Q-8,0 -7,-4.5Z" transform="translate(398.6 203.1) rotate(151) scale(1.28)" fill="#e0a94c" stroke="#c08a38" stroke-width="0.4"/><path d="M-7,-4.5 Q-3,-1 0,-1.2 Q3,-1 7,-4.5 Q8,0 7,4.5 Q3,1 0,1.2 Q-3,1 -7,4.5 Q-8,0 -7,-4.5Z" transform="translate(409.6 204.1) rotate(147) scale(1.30)" fill="#f6d98a" stroke="#c08a38" stroke-width="0.4"/><path d="M-7,-4.5 Q-3,-1 0,-1.2 Q3,-1 7,-4.5 Q8,0 7,4.5 Q3,1 0,1.2 Q-3,1 -7,4.5 Q-8,0 -7,-4.5Z" transform="translate(422.3 201.7) rotate(35) scale(1.19)" fill="#e8b95a" stroke="#c08a38" stroke-width="0.4"/><path d="M-7,-4.5 Q-3,-1 0,-1.2 Q3,-1 7,-4.5 Q8,0 7,4.5 Q3,1 0,1.2 Q-3,1 -7,4.5 Q-8,0 -7,-4.5Z" transform="translate(430.3 202.9) rotate(70) scale(0.98)" fill="#fae6a8" stroke="#c08a38" stroke-width="0.4"/><path d="M-7,-4.5 Q-3,-1 0,-1.2 Q3,-1 7,-4.5 Q8,0 7,4.5 Q3,1 0,1.2 Q-3,1 -7,4.5 Q-8,0 -7,-4.5Z" transform="translate(442.7 204.0) rotate(269) scale(1.01)" fill="#f6d98a" stroke="#c08a38" stroke-width="0.4"/><path d="M-7,-4.5 Q-3,-1 0,-1.2 Q3,-1 7,-4.5 Q8,0 7,4.5 Q3,1 0,1.2 Q-3,1 -7,4.5 Q-8,0 -7,-4.5Z" transform="translate(456.3 202.8) rotate(74) scale(1.09)" fill="#f3d27a" stroke="#c08a38" stroke-width="0.4"/><path d="M-7,-4.5 Q-3,-1 0,-1.2 Q3,-1 7,-4.5 Q8,0 7,4.5 Q3,1 0,1.2 Q-3,1 -7,4.5 Q-8,0 -7,-4.5Z" transform="translate(390.5 212.2) rotate(228) scale(1.28)" fill="#fae6a8" stroke="#c08a38" stroke-width="0.4"/><path d="M-7,-4.5 Q-3,-1 0,-1.2 Q3,-1 7,-4.5 Q8,0 7,4.5 Q3,1 0,1.2 Q-3,1 -7,4.5 Q-8,0 -7,-4.5Z" transform="translate(401.8 211.1) rotate(195) scale(1.04)" fill="#e8b95a" stroke="#c08a38" stroke-width="0.4"/><path d="M-7,-4.5 Q-3,-1 0,-1.2 Q3,-1 7,-4.5 Q8,0 7,4.5 Q3,1 0,1.2 Q-3,1 -7,4.5 Q-8,0 -7,-4.5Z" transform="translate(412.6 212.5) rotate(291) scale(1.02)" fill="#f0cb6c" stroke="#c08a38" stroke-width="0.4"/><path d="M-7,-4.5 Q-3,-1 0,-1.2 Q3,-1 7,-4.5 Q8,0 7,4.5 Q3,1 0,1.2 Q-3,1 -7,4.5 Q-8,0 -7,-4.5Z" transform="translate(425.7 209.1) rotate(226) scale(0.96)" fill="#f6d98a" stroke="#c08a38" stroke-width="0.4"/><path d="M-7,-4.5 Q-3,-1 0,-1.2 Q3,-1 7,-4.5 Q8,0 7,4.5 Q3,1 0,1.2 Q-3,1 -7,4.5 Q-8,0 -7,-4.5Z" transform="translate(434.3 209.8) rotate(277) scale(1.09)" fill="#e8b95a" stroke="#c08a38" stroke-width="0.4"/><path d="M-7,-4.5 Q-3,-1 0,-1.2 Q3,-1 7,-4.5 Q8,0 7,4.5 Q3,1 0,1.2 Q-3,1 -7,4.5 Q-8,0 -7,-4.5Z" transform="translate(447.2 209.7) rotate(5) scale(1.07)" fill="#e8b95a" stroke="#c08a38" stroke-width="0.4"/><path d="M-7,-4.5 Q-3,-1 0,-1.2 Q3,-1 7,-4.5 Q8,0 7,4.5 Q3,1 0,1.2 Q-3,1 -7,4.5 Q-8,0 -7,-4.5Z" transform="translate(385.4 220.2) rotate(162) scale(1.00)" fill="#f3d27a" stroke="#c08a38" stroke-width="0.4"/><path d="M-7,-4.5 Q-3,-1 0,-1.2 Q3,-1 7,-4.5 Q8,0 7,4.5 Q3,1 0,1.2 Q-3,1 -7,4.5 Q-8,0 -7,-4.5Z" transform="translate(397.1 218.0) rotate(16) scale(1.07)" fill="#f3d27a" stroke="#c08a38" stroke-width="0.4"/><path d="M-7,-4.5 Q-3,-1 0,-1.2 Q3,-1 7,-4.5 Q8,0 7,4.5 Q3,1 0,1.2 Q-3,1 -7,4.5 Q-8,0 -7,-4.5Z" transform="translate(409.1 220.0) rotate(203) scale(1.28)" fill="#f3d27a" stroke="#c08a38" stroke-width="0.4"/><path d="M-7,-4.5 Q-3,-1 0,-1.2 Q3,-1 7,-4.5 Q8,0 7,4.5 Q3,1 0,1.2 Q-3,1 -7,4.5 Q-8,0 -7,-4.5Z" transform="translate(423.8 219.0) rotate(299) scale(1.12)" fill="#e8b95a" stroke="#c08a38" stroke-width="0.4"/><path d="M-7,-4.5 Q-3,-1 0,-1.2 Q3,-1 7,-4.5 Q8,0 7,4.5 Q3,1 0,1.2 Q-3,1 -7,4.5 Q-8,0 -7,-4.5Z" transform="translate(430.9 218.9) rotate(22) scale(1.23)" fill="#fae6a8" stroke="#c08a38" stroke-width="0.4"/><path d="M-7,-4.5 Q-3,-1 0,-1.2 Q3,-1 7,-4.5 Q8,0 7,4.5 Q3,1 0,1.2 Q-3,1 -7,4.5 Q-8,0 -7,-4.5Z" transform="translate(444.8 220.7) rotate(293) scale(1.14)" fill="#fae6a8" stroke="#c08a38" stroke-width="0.4"/><path d="M-7,-4.5 Q-3,-1 0,-1.2 Q3,-1 7,-4.5 Q8,0 7,4.5 Q3,1 0,1.2 Q-3,1 -7,4.5 Q-8,0 -7,-4.5Z" transform="translate(455.8 218.2) rotate(27) scale(0.96)" fill="#e0a94c" stroke="#c08a38" stroke-width="0.4"/><path d="M-7,-4.5 Q-3,-1 0,-1.2 Q3,-1 7,-4.5 Q8,0 7,4.5 Q3,1 0,1.2 Q-3,1 -7,4.5 Q-8,0 -7,-4.5Z" transform="translate(392.1 226.8) rotate(100) scale(1.00)" fill="#e8b95a" stroke="#c08a38" stroke-width="0.4"/><path d="M-7,-4.5 Q-3,-1 0,-1.2 Q3,-1 7,-4.5 Q8,0 7,4.5 Q3,1 0,1.2 Q-3,1 -7,4.5 Q-8,0 -7,-4.5Z" transform="translate(402.5 226.3) rotate(188) scale(1.06)" fill="#f0cb6c" stroke="#c08a38" stroke-width="0.4"/><path d="M-7,-4.5 Q-3,-1 0,-1.2 Q3,-1 7,-4.5 Q8,0 7,4.5 Q3,1 0,1.2 Q-3,1 -7,4.5 Q-8,0 -7,-4.5Z" transform="translate(418.1 227.4) rotate(11) scale(1.13)" fill="#e0a94c" stroke="#c08a38" stroke-width="0.4"/><path d="M-7,-4.5 Q-3,-1 0,-1.2 Q3,-1 7,-4.5 Q8,0 7,4.5 Q3,1 0,1.2 Q-3,1 -7,4.5 Q-8,0 -7,-4.5Z" transform="translate(425.2 228.1) rotate(271) scale(1.01)" fill="#fae6a8" stroke="#c08a38" stroke-width="0.4"/><path d="M-7,-4.5 Q-3,-1 0,-1.2 Q3,-1 7,-4.5 Q8,0 7,4.5 Q3,1 0,1.2 Q-3,1 -7,4.5 Q-8,0 -7,-4.5Z" transform="translate(438.2 227.1) rotate(322) scale(1.28)" fill="#f3d27a" stroke="#c08a38" stroke-width="0.4"/><path d="M-7,-4.5 Q-3,-1 0,-1.2 Q3,-1 7,-4.5 Q8,0 7,4.5 Q3,1 0,1.2 Q-3,1 -7,4.5 Q-8,0 -7,-4.5Z" transform="translate(449.3 226.4) rotate(235) scale(1.28)" fill="#fae6a8" stroke="#c08a38" stroke-width="0.4"/><path d="M-7,-4.5 Q-3,-1 0,-1.2 Q3,-1 7,-4.5 Q8,0 7,4.5 Q3,1 0,1.2 Q-3,1 -7,4.5 Q-8,0 -7,-4.5Z" transform="translate(384.1 236.8) rotate(340) scale(1.03)" fill="#fae6a8" stroke="#c08a38" stroke-width="0.4"/><path d="M-7,-4.5 Q-3,-1 0,-1.2 Q3,-1 7,-4.5 Q8,0 7,4.5 Q3,1 0,1.2 Q-3,1 -7,4.5 Q-8,0 -7,-4.5Z" transform="translate(394.8 234.7) rotate(149) scale(1.26)" fill="#fae6a8" stroke="#c08a38" stroke-width="0.4"/><path d="M-7,-4.5 Q-3,-1 0,-1.2 Q3,-1 7,-4.5 Q8,0 7,4.5 Q3,1 0,1.2 Q-3,1 -7,4.5 Q-8,0 -7,-4.5Z" transform="translate(406.2 233.3) rotate(189) scale(1.20)" fill="#f6d98a" stroke="#c08a38" stroke-width="0.4"/><path d="M-7,-4.5 Q-3,-1 0,-1.2 Q3,-1 7,-4.5 Q8,0 7,4.5 Q3,1 0,1.2 Q-3,1 -7,4.5 Q-8,0 -7,-4.5Z" transform="translate(420.5 233.0) rotate(102) scale(1.28)" fill="#f6d98a" stroke="#c08a38" stroke-width="0.4"/><path d="M-7,-4.5 Q-3,-1 0,-1.2 Q3,-1 7,-4.5 Q8,0 7,4.5 Q3,1 0,1.2 Q-3,1 -7,4.5 Q-8,0 -7,-4.5Z" transform="translate(432.5 234.8) rotate(104) scale(1.12)" fill="#f0cb6c" stroke="#c08a38" stroke-width="0.4"/><path d="M-7,-4.5 Q-3,-1 0,-1.2 Q3,-1 7,-4.5 Q8,0 7,4.5 Q3,1 0,1.2 Q-3,1 -7,4.5 Q-8,0 -7,-4.5Z" transform="translate(443.1 233.6) rotate(326) scale(0.97)" fill="#fae6a8" stroke="#c08a38" stroke-width="0.4"/><path d="M-7,-4.5 Q-3,-1 0,-1.2 Q3,-1 7,-4.5 Q8,0 7,4.5 Q3,1 0,1.2 Q-3,1 -7,4.5 Q-8,0 -7,-4.5Z" transform="translate(453.9 233.6) rotate(20) scale(1.20)" fill="#f0cb6c" stroke="#c08a38" stroke-width="0.4"/></g><rect x="386.5" y="143" width="69" height="89" rx="2.5" fill="none" stroke="#c4cccb" stroke-width="1.1"/><rect x="387.5" y="229.5" width="67" height="2" fill="#d8dedd" fill-opacity="0.7"/><rect x="389" y="144.5" width="64" height="6" fill="#d6cbc2" fill-opacity="0.9"/><rect x="393" y="146" width="56" height="3" fill="#e9e2dc" fill-opacity="0.9"/><rect x="385" y="129" width="72" height="14" rx="4" fill="#dcb898"/><rect x="386" y="129" width="70" height="7.7" rx="4" fill="#ecdcd2"/><rect x="387" y="141.5" width="68" height="1.2" fill="#e6cdb6"/><rect x="553.5" y="76" width="69" height="158" rx="2.5" fill="#f4fbfa" fill-opacity="0.55"/><clipPath id="sp"><path d="M556,93 Q560,89 566,92 Q572,88 580,91 Q588,87 596,91 Q604,88 612,91 Q618,89 622,93 C621,120 615,150 614,172 C614,195 622,212 623,232 L558,232 C560,212 572,195 572,178 C572,150 557,125 556,93 Z"/></clipPath><g clip-path="url(#sp)"><defs><linearGradient id="spg" x1="0" x2="1" y1="0" y2="0"><stop offset="0" stop-color="#c98d22"/><stop offset="0.35" stop-color="#e5aa30"/><stop offset="0.7" stop-color="#f2c244"/><stop offset="1" stop-color="#e3a830"/></linearGradient></defs><rect x="550" y="85" width="80" height="150" fill="url(#spg)"/><path d="M557.5,88 Q566.9,140 573.1,178 L553.6,236" stroke="#d99c26" stroke-width="0.9" fill="none" stroke-opacity="0.85"/><path d="M587.6,88 Q590.8,140 592.8,178 L568.2,236" stroke="#eab43a" stroke-width="1.3" fill="none" stroke-opacity="0.85"/><path d="M576.4,88 Q581.7,140 585.2,178 L561.9,236" stroke="#f6cf55" stroke-width="1.1" fill="none" stroke-opacity="0.85"/><path d="M606.4,88 Q605.4,140 604.8,178 L582.4,236" stroke="#c98b1e" stroke-width="0.9" fill="none" stroke-opacity="0.85"/><path d="M621.8,88 Q616.5,140 612.9,178 L592.5,236" stroke="#d99c26" stroke-width="1.0" fill="none" stroke-opacity="0.85"/><path d="M572.5,88 Q579.2,140 583.6,178 L560.8,236" stroke="#d99c26" stroke-width="1.0" fill="none" stroke-opacity="0.85"/><path d="M570.8,88 Q577.4,140 581.8,178 L561.9,236" stroke="#f9d86a" stroke-width="1.2" fill="none" stroke-opacity="0.85"/><line x1="632.1" y1="178" x2="610.1" y2="236" stroke="#f6cf55" stroke-width="1" stroke-opacity="0.8"/><path d="M564.2,88 Q572.2,140 577.5,178 L555.9,236" stroke="#b97c18" stroke-width="1.0" fill="none" stroke-opacity="0.85"/><line x1="625.8" y1="178" x2="603.8" y2="236" stroke="#f9d86a" stroke-width="1" stroke-opacity="0.8"/><path d="M558.6,88 Q567.9,140 574.1,178 L549.5,236" stroke="#e0a830" stroke-width="1.2" fill="none" stroke-opacity="0.85"/><path d="M613.0,88 Q610.7,140 609.1,178 L587.4,236" stroke="#f9d86a" stroke-width="0.7" fill="none" stroke-opacity="0.85"/><line x1="634.3" y1="178" x2="612.3" y2="236" stroke="#d99c26" stroke-width="1" stroke-opacity="0.8"/><path d="M614.1,88 Q610.7,140 608.4,178 L586.5,236" stroke="#d99c26" stroke-width="1.0" fill="none" stroke-opacity="0.85"/><path d="M594.7,88 Q595.2,140 595.6,178 L571.2,236" stroke="#c98b1e" stroke-width="1.2" fill="none" stroke-opacity="0.85"/><path d="M569.7,88 Q576.0,140 580.1,178 L560.9,236" stroke="#c98b1e" stroke-width="0.9" fill="none" stroke-opacity="0.85"/><path d="M556.3,88 Q566.0,140 572.5,178 L553.4,236" stroke="#c98b1e" stroke-width="0.8" fill="none" stroke-opacity="0.85"/><line x1="625.1" y1="178" x2="603.1" y2="236" stroke="#eab43a" stroke-width="1" stroke-opacity="0.8"/><line x1="630.9" y1="178" x2="608.9" y2="236" stroke="#eab43a" stroke-width="1" stroke-opacity="0.8"/><path d="M602.4,88 Q602.1,140 601.9,178 L579.8,236" stroke="#eab43a" stroke-width="1.0" fill="none" stroke-opacity="0.85"/><path d="M617.3,88 Q613.2,140 610.4,178 L587.7,236" stroke="#fce38a" stroke-width="1.0" fill="none" stroke-opacity="0.85"/><line x1="627.7" y1="178" x2="605.7" y2="236" stroke="#f9d86a" stroke-width="1" stroke-opacity="0.8"/><path d="M616.0,88 Q612.4,140 610.1,178 L590.7,236" stroke="#f6cf55" stroke-width="0.8" fill="none" stroke-opacity="0.85"/><line x1="614.4" y1="178" x2="592.4" y2="236" stroke="#f9d86a" stroke-width="1" stroke-opacity="0.8"/><path d="M579.4,88 Q584.1,140 587.3,178 L563.0,236" stroke="#c98b1e" stroke-width="0.8" fill="none" stroke-opacity="0.85"/><path d="M620.6,88 Q615.3,140 611.8,178 L591.0,236" stroke="#f6cf55" stroke-width="1.0" fill="none" stroke-opacity="0.85"/><path d="M585.4,88 Q589.1,140 591.5,178 L570.4,236" stroke="#eab43a" stroke-width="0.9" fill="none" stroke-opacity="0.85"/><path d="M597.9,88 Q598.4,140 598.7,178 L574.7,236" stroke="#d99c26" stroke-width="1.1" fill="none" stroke-opacity="0.85"/><line x1="647.2" y1="178" x2="625.2" y2="236" stroke="#f9d86a" stroke-width="1" stroke-opacity="0.8"/><line x1="610.2" y1="178" x2="588.2" y2="236" stroke="#d99c26" stroke-width="1" stroke-opacity="0.8"/><line x1="623.2" y1="178" x2="601.2" y2="236" stroke="#eab43a" stroke-width="1" stroke-opacity="0.8"/><path d="M562.1,88 Q571.1,140 577.2,178 L557.2,236" stroke="#b97c18" stroke-width="0.8" fill="none" stroke-opacity="0.85"/><path d="M582.3,88 Q586.5,140 589.4,178 L567.9,236" stroke="#fce38a" stroke-width="0.9" fill="none" stroke-opacity="0.85"/><path d="M594.9,88 Q595.8,140 596.3,178 L572.5,236" stroke="#f6cf55" stroke-width="0.8" fill="none" stroke-opacity="0.85"/><line x1="604.2" y1="178" x2="582.2" y2="236" stroke="#f6cf55" stroke-width="1" stroke-opacity="0.8"/><path d="M573.1,88 Q579.6,140 583.9,178 L561.2,236" stroke="#eab43a" stroke-width="0.9" fill="none" stroke-opacity="0.85"/><line x1="603.8" y1="178" x2="581.8" y2="236" stroke="#eab43a" stroke-width="1" stroke-opacity="0.8"/><path d="M614.5,88 Q611.5,140 609.5,178 L587.8,236" stroke="#f9d86a" stroke-width="0.7" fill="none" stroke-opacity="0.85"/><path d="M597.0,88 Q597.6,140 598.0,178 L577.4,236" stroke="#d99c26" stroke-width="0.9" fill="none" stroke-opacity="0.85"/><path d="M605.1,88 Q603.6,140 602.6,178 L578.6,236" stroke="#fce38a" stroke-width="1.2" fill="none" stroke-opacity="0.85"/><line x1="633.3" y1="178" x2="611.3" y2="236" stroke="#d99c26" stroke-width="1" stroke-opacity="0.8"/><path d="M571.1,88 Q576.8,140 580.6,178 L559.3,236" stroke="#eab43a" stroke-width="1.1" fill="none" stroke-opacity="0.85"/><path d="M584.2,88 Q587.9,140 590.3,178 L570.6,236" stroke="#f6cf55" stroke-width="1.2" fill="none" stroke-opacity="0.85"/><path d="M600.9,88 Q600.6,140 600.3,178 L576.4,236" stroke="#f9d86a" stroke-width="0.7" fill="none" stroke-opacity="0.85"/><path d="M560.4,88 Q569.4,140 575.3,178 L553.5,236" stroke="#e0a830" stroke-width="1.0" fill="none" stroke-opacity="0.85"/><path d="M580.8,88 Q585.2,140 588.1,178 L563.1,236" stroke="#d99c26" stroke-width="0.8" fill="none" stroke-opacity="0.85"/><line x1="599.5" y1="178" x2="577.5" y2="236" stroke="#f6cf55" stroke-width="1" stroke-opacity="0.8"/><path d="M611.2,88 Q609.1,140 607.7,178 L584.6,236" stroke="#fce38a" stroke-width="1.0" fill="none" stroke-opacity="0.85"/><line x1="602.7" y1="178" x2="580.7" y2="236" stroke="#d99c26" stroke-width="1" stroke-opacity="0.8"/><path d="M566.0,88 Q573.0,140 577.7,178 L556.3,236" stroke="#e0a830" stroke-width="0.9" fill="none" stroke-opacity="0.85"/><path d="M556.3,88 Q565.3,140 571.3,178 L547.1,236" stroke="#d99c26" stroke-width="0.9" fill="none" stroke-opacity="0.85"/><line x1="615.8" y1="178" x2="593.8" y2="236" stroke="#f9d86a" stroke-width="1" stroke-opacity="0.8"/><line x1="613.7" y1="178" x2="591.7" y2="236" stroke="#f6cf55" stroke-width="1" stroke-opacity="0.8"/><path d="M610.6,88 Q608.0,140 606.2,178 L583.0,236" stroke="#d99c26" stroke-width="0.9" fill="none" stroke-opacity="0.85"/><path d="M562.9,88 Q571.9,140 577.9,178 L555.4,236" stroke="#c98b1e" stroke-width="0.8" fill="none" stroke-opacity="0.85"/><path d="M590.1,88 Q592.2,140 593.7,178 L574.1,236" stroke="#d99c26" stroke-width="0.9" fill="none" stroke-opacity="0.85"/><path d="M607.7,88 Q606.1,140 605.0,178 L584.2,236" stroke="#eab43a" stroke-width="1.1" fill="none" stroke-opacity="0.85"/><path d="M580.2,88 Q584.7,140 587.8,178 L563.5,236" stroke="#d99c26" stroke-width="0.8" fill="none" stroke-opacity="0.85"/><path d="M576.1,88 Q581.1,140 584.5,178 L559.5,236" stroke="#f6cf55" stroke-width="0.8" fill="none" stroke-opacity="0.85"/><path d="M592.3,88 Q593.7,140 594.6,178 L572.2,236" stroke="#f9d86a" stroke-width="1.0" fill="none" stroke-opacity="0.85"/><line x1="591.9" y1="178" x2="569.9" y2="236" stroke="#eab43a" stroke-width="1" stroke-opacity="0.8"/><path d="M590.4,88 Q592.0,140 593.1,178 L570.2,236" stroke="#c98b1e" stroke-width="1.0" fill="none" stroke-opacity="0.85"/><path d="M599.1,88 Q599.7,140 600.1,178 L578.8,236" stroke="#d99c26" stroke-width="1.0" fill="none" stroke-opacity="0.85"/><path d="M575.0,88 Q580.4,140 583.9,178 L561.1,236" stroke="#fce38a" stroke-width="0.8" fill="none" stroke-opacity="0.85"/><line x1="598.3" y1="178" x2="576.3" y2="236" stroke="#f6cf55" stroke-width="1" stroke-opacity="0.8"/><line x1="627.7" y1="178" x2="605.7" y2="236" stroke="#eab43a" stroke-width="1" stroke-opacity="0.8"/><path d="M567.9,88 Q575.6,140 580.8,178 L557.4,236" stroke="#d99c26" stroke-width="0.9" fill="none" stroke-opacity="0.85"/><path d="M623.0,88 Q617.2,140 613.3,178 L593.7,236" stroke="#c98b1e" stroke-width="1.0" fill="none" stroke-opacity="0.85"/><path d="M609.3,88 Q606.8,140 605.2,178 L584.3,236" stroke="#fce38a" stroke-width="1.0" fill="none" stroke-opacity="0.85"/><path d="M618.7,88 Q614.2,140 611.3,178 L587.6,236" stroke="#f9d86a" stroke-width="1.1" fill="none" stroke-opacity="0.85"/><line x1="611.7" y1="178" x2="589.7" y2="236" stroke="#f6cf55" stroke-width="1" stroke-opacity="0.8"/><path d="M588.5,88 Q591.1,140 592.8,178 L568.3,236" stroke="#d99c26" stroke-width="1.2" fill="none" stroke-opacity="0.85"/><line x1="592.0" y1="178" x2="570.0" y2="236" stroke="#f9d86a" stroke-width="1" stroke-opacity="0.8"/><path d="M608.9,88 Q606.6,140 605.0,178 L582.0,236" stroke="#c98b1e" stroke-width="1.1" fill="none" stroke-opacity="0.85"/><path d="M578.0,88 Q582.9,140 586.1,178 L563.3,236" stroke="#fce38a" stroke-width="1.2" fill="none" stroke-opacity="0.85"/><path d="M604.5,88 Q603.6,140 603.0,178 L580.1,236" stroke="#d99c26" stroke-width="1.0" fill="none" stroke-opacity="0.85"/><path d="M591.8,88 Q593.4,140 594.4,178 L574.6,236" stroke="#eab43a" stroke-width="1.1" fill="none" stroke-opacity="0.85"/><path d="M566.8,88 Q574.0,140 578.8,178 L557.4,236" stroke="#b97c18" stroke-width="1.2" fill="none" stroke-opacity="0.85"/><line x1="595.2" y1="178" x2="573.2" y2="236" stroke="#f6cf55" stroke-width="1" stroke-opacity="0.8"/><path d="M586.1,88 Q588.2,140 589.6,178 L564.7,236" stroke="#c98b1e" stroke-width="1.1" fill="none" stroke-opacity="0.85"/><path d="M561.5,88 Q570.0,140 575.6,178 L555.6,236" stroke="#b97c18" stroke-width="1.2" fill="none" stroke-opacity="0.85"/><line x1="613.3" y1="178" x2="591.3" y2="236" stroke="#eab43a" stroke-width="1" stroke-opacity="0.8"/><path d="M596.7,88 Q597.4,140 597.8,178 L574.4,236" stroke="#fce38a" stroke-width="1.1" fill="none" stroke-opacity="0.85"/><line x1="631.2" y1="178" x2="609.2" y2="236" stroke="#eab43a" stroke-width="1" stroke-opacity="0.8"/><path d="M602.8,88 Q602.3,140 601.9,178 L579.2,236" stroke="#eab43a" stroke-width="0.9" fill="none" stroke-opacity="0.85"/><path d="M598,195 L608,195 L612,234 L600,234Z" fill="#fff6cc" fill-opacity="0.35"/></g><rect x="553.5" y="76" width="69" height="158" rx="2.5" fill="none" stroke="#c4cccb" stroke-width="1.1"/><rect x="554.5" y="231.5" width="67" height="2" fill="#d8dedd" fill-opacity="0.7"/><rect x="556" y="77.5" width="64" height="6" fill="#d6cbc2" fill-opacity="0.9"/><rect x="560" y="79" width="56" height="3" fill="#e9e2dc" fill-opacity="0.9"/><rect x="552" y="62" width="72" height="14" rx="4" fill="#dcb898"/><rect x="553" y="62" width="70" height="7.7" rx="4" fill="#ecdcd2"/><rect x="554" y="74.5" width="68" height="1.2" fill="#e6cdb6"/></svg>
</body></html>
